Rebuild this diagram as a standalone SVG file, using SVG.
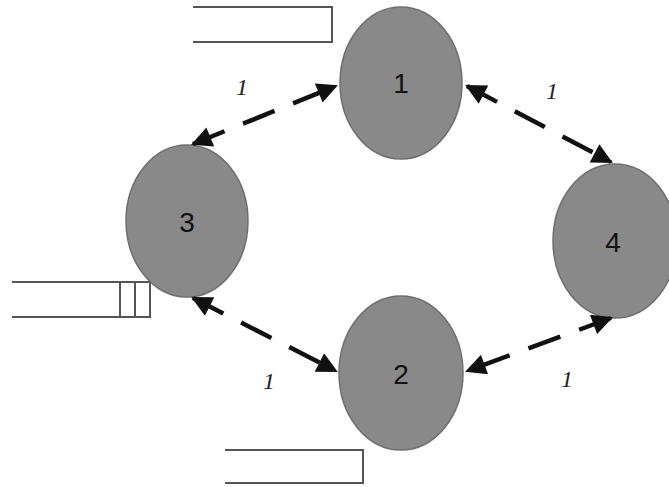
<svg xmlns="http://www.w3.org/2000/svg" width="669" height="487" viewBox="0 0 669 487">
<defs>
<style>
.node{fill:#898989;stroke:#6e6e6e;stroke-width:1.5}
.nl{font-family:"Liberation Sans",Arial,sans-serif;font-size:28px;fill:#111;text-anchor:middle}
.el{font-family:"Liberation Serif","Times New Roman",serif;font-style:italic;font-size:24px;fill:#222;text-anchor:middle}
.conn{stroke:#111;stroke-width:4.5;stroke-dasharray:34 20;fill:none;marker-start:url(#ah);marker-end:url(#ah)}
.store{fill:none;stroke:#555;stroke-width:2}
</style>
<marker id="ah" viewBox="0 0 10 10" refX="9" refY="5" markerWidth="5.2" markerHeight="4.6" orient="auto-start-reverse" markerUnits="strokeWidth">
<path d="M0,0 L10,5 L0,10 z" fill="#111"/>
</marker>
</defs>
<rect width="669" height="487" fill="#fff"/>
<g id="stores">
<path class="store" d="M193,7 H332 V42 H193"/>
<path class="store" d="M225,450 H363 V483 H225"/>
<path class="store" d="M12,282 H150 V317 H12 M120,282 V317 M135,282 V317"/>
</g>
<g id="node1"><ellipse class="node" cx="401" cy="83" rx="61" ry="76"/><text class="nl" x="401" y="93">1</text></g>
<g id="node2"><ellipse class="node" cx="401" cy="373" rx="62" ry="77"/><text class="nl" x="401" y="384">2</text></g>
<g id="node3"><ellipse class="node" cx="187" cy="221" rx="61" ry="76"/><text class="nl" x="187" y="232">3</text></g>
<g id="node4"><ellipse class="node" cx="615" cy="241" rx="62" ry="77"/><text class="nl" x="613" y="252">4</text></g>
<g id="connectors">
<line class="conn" x1="193" y1="144" x2="336" y2="86"/>
<line class="conn" x1="467" y1="86" x2="611" y2="162"/>
<line class="conn" x1="193" y1="298" x2="336" y2="371"/>
<line class="conn" x1="611" y1="318" x2="467" y2="371"/>
</g>
<g id="labels">
<text class="el" x="242" y="95">1</text>
<text class="el" x="552" y="99">1</text>
<text class="el" x="269" y="389">1</text>
<text class="el" x="567" y="387">1</text>
</g>
</svg>
